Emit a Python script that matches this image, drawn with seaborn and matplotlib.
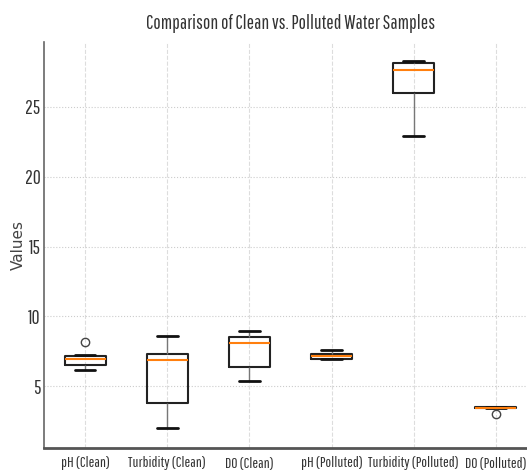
import matplotlib
matplotlib.use("Agg")
import matplotlib.pyplot as plt
from matplotlib import font_manager
import seaborn as sns
import pandas as pd


# data
labels = ["pH (Clean)", "Turbidity (Clean)", "DO (Clean)",
          "pH (Polluted)", "Turbidity (Polluted)", "DO (Polluted)"]

ph_clean = [6.14, 6.40, 6.55, 6.70, 6.93, 7.00, 7.16, 7.23, 8.20]
turb_clean = [1.98, 3.83, 6.88, 7.33, 8.57]
do_clean = [5.36, 6.36, 8.09, 8.55, 8.93]
ph_poll = [6.95, 6.98, 7.14, 7.31, 7.57]
turb_poll = [22.88, 26.02, 27.60, 28.14, 28.31]
do_poll = [3.00, 3.44, 3.47, 3.50, 3.52]

series = [ph_clean, turb_clean, do_clean, ph_poll, turb_poll, do_poll]

rows = []
for lab, vals in zip(labels, series):
    for v in vals:
        rows.append({"sample": lab, "value": v})
df = pd.DataFrame(rows)


sns.set_style("whitegrid")

# narrow font for the squeezed look of the reference
names = {f.name for f in font_manager.fontManager.ttflist}
narrow = "DejaVu Sans"
for cand in ["Pathway Gothic One", "Sofia Sans Extra Condensed", "Open Sans Condensed"]:
    if cand in names:
        narrow = cand
        break
plt.rcParams["font.family"] = [narrow, "DejaVu Sans"]

fig = plt.figure(figsize=(5.27, 4.76), dpi=100)
ax = fig.add_axes([0.0835, 0.0588, 0.9355, 0.853])

sns.boxplot(data=df, x="sample", y="value", order=labels,
            fill=False, width=0.5, whis=1.5, color="#222222",
            linewidth=1.5,
            medianprops=dict(color="#ff7f0e", linewidth=1.5),
            whiskerprops=dict(color="#777777", linewidth=1),
            capprops=dict(color="#111111", linewidth=2),
            flierprops=dict(marker="o", markerfacecolor="none",
                            markeredgecolor="#444444", markersize=6),
            ax=ax)

ax.set_xlim(-0.5, 5.5)
ax.set_ylim(0.58, 29.64)
ax.set_yticks([5, 10, 15, 20, 25])

ax.set_title("Comparison of Clean vs. Polluted Water Samples",
             fontsize=14, color="#333333", pad=9)
ax.set_xlabel("")
ax.set_ylabel("Values", fontsize=11, family="DejaVu Sans", color="#444444")
ax.yaxis.set_label_coords(-0.037, 0.5)

ax.tick_params(axis="x", length=0, labelsize=11, colors="#333333", pad=6)
ax.tick_params(axis="y", direction="out", length=2, width=1,
               labelsize=14, colors="#333333", pad=0.5)
ax.xaxis.grid(True, linestyle="--", color="#dddddd", linewidth=0.8)
ax.yaxis.grid(True, linestyle=":", color="#cccccc", linewidth=0.8)

for s in ["top", "right"]:
    ax.spines[s].set_visible(False)
ax.spines["left"].set_color("#666666")
ax.spines["left"].set_linewidth(1.2)
ax.spines["bottom"].set_color("#555555")
ax.spines["bottom"].set_linewidth(2)

fig.savefig("out.png", dpi=100)
